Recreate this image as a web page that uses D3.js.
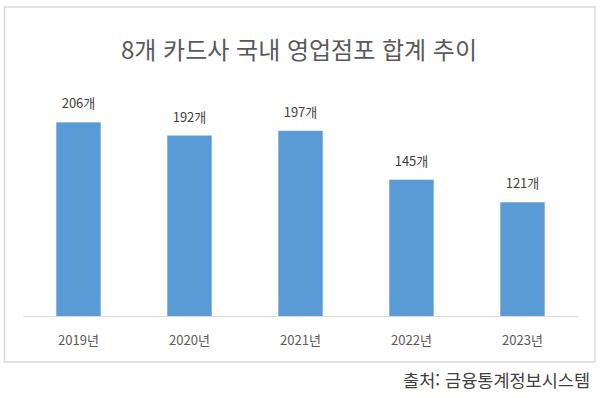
<!DOCTYPE html>
<html lang="ko">
<head>
<meta charset="UTF-8">
<title>8개 카드사 국내 영업점포 합계 추이</title>
<script src="https://d3js.org/d3.v7.min.js"></script>
<style>
  html, body { margin: 0; padding: 0; background: #fff; }
  svg { display: block; font-family: "Noto Sans CJK KR", "Noto Sans", sans-serif; }
</style>
</head>
<body>
<svg width="600" height="398"></svg>
<script>
const years = ["2019년", "2020년", "2021년", "2022년", "2023년"];
const branches = [206, 192, 197, 145, 121];
const title = "8개 카드사 국내 영업점포 합계 추이";
const source = "출처: 금융통계정보시스템";

const svg = d3.select("svg");
const data = years.map((y, i) => ({ year: y, value: branches[i] }));

// chart frame
svg.append("rect")
    .attr("x", 4.5).attr("y", 7)
    .attr("width", 590.5).attr("height", 355)
    .attr("fill", "#fff")
    .attr("stroke", "#d9d9d9")
    .attr("stroke-width", 1.5);

svg.append("text")
    .attr("x", 299).attr("y", 59)
    .attr("text-anchor", "middle")
    .attr("font-size", 24)
    .attr("fill", "#595959")
    .text(title);

const x = d3.scaleBand()
    .domain(years)
    .range([23, 578])
    .paddingInner(0.6)
    .paddingOuter(0.3);

const y = d3.scaleLinear()
    .domain([0, 250])
    .range([316, 81]);

svg.selectAll(".bar")
    .data(data)
    .enter().append("rect")
    .attr("class", "bar")
    .attr("x", d => x(d.year))
    .attr("y", d => y(d.value))
    .attr("width", x.bandwidth())
    .attr("height", d => y(0) - y(d.value))
    .attr("fill", "#5b9bd5");

svg.selectAll(".val")
    .data(data)
    .enter().append("text")
    .attr("class", "val")
    .attr("x", d => x(d.year) + x.bandwidth() / 2)
    .attr("y", d => y(d.value) - 14)
    .attr("text-anchor", "middle")
    .attr("font-size", 13)
    .attr("fill", "#404040")
    .text(d => d.value + "개");

// x axis
const xAxis = svg.append("g")
    .attr("transform", `translate(0,${y(0)})`)
    .call(d3.axisBottom(x).tickSize(0).tickPadding(0));
xAxis.select(".domain").attr("stroke", "#d9d9d9").attr("stroke-width", 1.2);
xAxis.selectAll("text")
    .attr("dy", null)
    .attr("y", 29)
    .attr("font-family", "\"Noto Sans CJK KR\", sans-serif")
    .attr("font-size", 13)
    .attr("fill", "#595959");

svg.append("text")
    .attr("x", 590).attr("y", 387)
    .attr("text-anchor", "end")
    .attr("font-size", 17.5)
    .attr("fill", "#404040")
    .text(source);
</script>
</body>
</html>
